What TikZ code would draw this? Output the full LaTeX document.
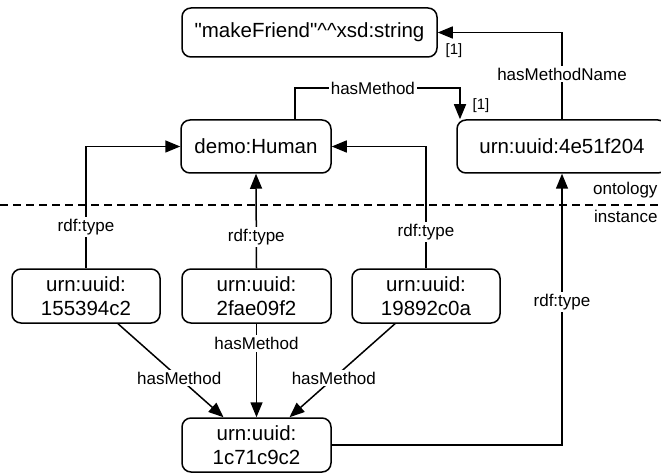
\documentclass[tikz,border=0pt]{standalone}
\usepackage{fontspec}
\setmainfont{Liberation Sans}[Ligatures=TeXOff]
\usetikzlibrary{arrows.meta}
\begin{document}
\begin{tikzpicture}[x=1pt,y=-1pt,
  box/.style={draw,line width=1.5pt,rounded corners=9pt,align=center,inner sep=0pt,
    font=\fontsize{20.5}{23.5}\selectfont},
  arr/.style={line width=1.5pt,-{Triangle[length=15pt,width=12pt]}},
  lbl/.style={fill=white,inner sep=2pt,font=\fontsize{17}{20}\selectfont},
  mult/.style={inner sep=0pt,font=\fontsize{15}{18}\selectfont}]
\fill[white] (0,0) rectangle (661,473);
\useasboundingbox (0,0) rectangle (661,473);
\clip (0,0) rectangle (661,473);
% nodes
\node[box,minimum width=255pt,minimum height=49pt] (mf) at (309.5,32.5) {\symbol{34}makeFriend\symbol{34}\symbol{94}\symbol{94}xsd:string};
\node[box,minimum width=150pt,minimum height=53pt] (demo) at (256,146.5) {demo:Human};
\node[box,minimum width=210pt,minimum height=53pt] (meth) at (562,146.5) {urn:uuid:4e51f204};
\node[box,minimum width=148pt,minimum height=54pt] (b1) at (86,296) {urn:uuid:\\155394c2};
\node[box,minimum width=149pt,minimum height=54pt] (b2) at (256.5,296) {urn:uuid:\\2fae09f2};
\node[box,minimum width=148pt,minimum height=54pt] (b3) at (426,296) {urn:uuid:\\19892c0a};
\node[box,minimum width=149pt,minimum height=54pt] (bot) at (256.5,445) {urn:uuid:\\1c71c9c2};
% separator
\draw[line width=1.1pt,dash pattern=on 8pt off 5pt] (0,205) -- (661,205);
\node[anchor=east,font=\fontsize{17}{20}\selectfont] (onto) at (661,190) {ontology};
\node[anchor=east,font=\fontsize{17}{20}\selectfont] (inst) at (661,216) {instance};
% rdf:type connectors
\draw[arr] (b1.north) |- node[lbl,pos=0.17]{rdf:type} (demo.west);
\draw[arr] (b2.north) -- node[lbl,pos=0.33]{rdf:type} (demo.south);
\draw[arr] (b3.north) |- node[lbl,pos=0.15]{rdf:type} (demo.east);
\draw[arr] (bot.east) -| node[lbl,pos=0.763]{rdf:type} (meth.south);
% hasMethodName
\draw[arr] (meth.north) |- node[lbl,pos=0.26]{hasMethodName} (mf.east);
\node[mult] (m1) at (454,51) {[1]};
% hasMethod (ontology)
\draw[arr] ([xshift=39pt]demo.north) -- ++(0,-31) -| node[lbl,pos=0.236]{hasMethod} ([xshift=-102pt]meth.north);
\node[mult] (m2) at (481,106) {[1]};
% hasMethod (instance)
\draw[arr] ([xshift=32pt]b1.south) -- node[lbl,pos=0.58]{hasMethod} ([xshift=-33pt]bot.north);
\draw[arr] (b2.south) -- node[lbl,pos=0.21]{hasMethod} (bot.north);
\draw[arr] ([xshift=-31pt]b3.south) -- node[lbl,pos=0.58]{hasMethod} ([xshift=33pt]bot.north);
\end{tikzpicture}
\end{document}
